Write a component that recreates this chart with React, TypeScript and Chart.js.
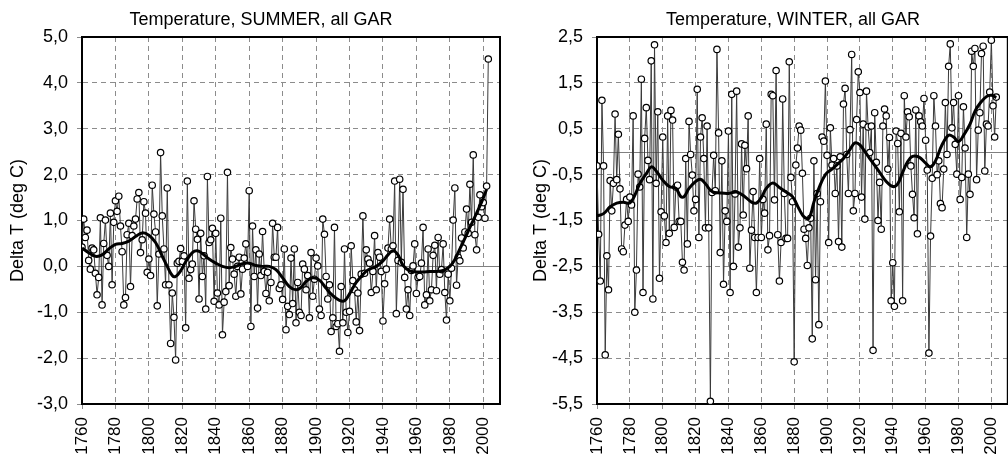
import React, { useEffect, useRef } from 'react';
import { Chart, registerables } from 'chart.js';

Chart.register(...registerables);

const FONT = '"Liberation Sans", Arial, sans-serif';

// categories
const firstYear = 1760;
const xTickYears = [1760, 1780, 1800, 1820, 1840, 1860, 1880, 1900, 1920, 1940, 1960, 1980, 2000];
const summerYTicks = [-3, -2, -1, 0, 1, 2, 3, 4, 5];
const winterYTicks = [-5.5, -4.5, -3.5, -2.5, -1.5, -0.5, 0.5, 1.5, 2.5];

// SUMMER annual anomalies 1760..2003
const summerValues = [
  0.42, 1.03, 0.63, 0.79, 0.13, -0.06, 0.40, 0.36, -0.15, -0.62,
  -0.24, 1.06, -0.84, 0.50, 1.01, 0.24, 0.00, 1.16, -0.40, 0.96,
  1.43, 1.20, 1.53, 0.88, 0.32, -0.84, -0.68, 0.69, 0.94, -0.44,
  0.67, 0.88, 1.03, 1.47, 1.61, 0.30, 0.58, 1.41, 1.16, -0.13,
  0.16, -0.20, 1.77, 1.14, 0.75, -0.86, 0.27, 2.48, 1.10, 0.38,
  -0.40, 1.71, -0.40, -1.68, -0.58, -1.11, -2.04, 0.07, 0.11, 0.39,
  0.11, 0.23, -1.34, 1.86, -0.26, -0.07, 0.05, 1.43, 0.81, 0.59,
  -0.71, 0.72, -0.22, 0.23, -0.93, 1.96, 0.52, 0.58, 0.83, -0.76,
  0.72, -0.58, -0.84, 1.05, -1.49, -0.78, -0.55, 2.05, -0.42, 0.41,
  0.16, -0.17, -0.65, 0.00, 0.20, -0.60, -0.06, 0.18, 0.49, 0.00,
  1.65, -1.31, 0.88, -0.22, 0.36, -0.91, 0.27, -0.20, 0.76, -0.11,
  -0.59, -0.13, -0.75, -0.35, 0.94, 0.20, 0.20, 0.85, -0.48, -0.40,
  -0.72, 0.38, -1.38, -0.87, -1.05, 0.18, -0.81, 0.38, -1.23, -0.35,
  -1.00, -1.07, 0.05, -0.06, -0.51, -0.20, -1.12, 0.30, -0.65, -0.28,
  0.18, 0.01, -0.93, -1.07, 1.03, 0.70, -0.22, -0.71, -0.40, -1.42,
  -1.12, 0.85, -1.31, -1.25, -1.85, -0.44, -1.23, 0.38, -1.00, -1.44,
  -0.98, 0.45, -0.31, -0.51, -1.21, -0.58, -1.40, -0.17, 1.10, -0.15,
  0.36, 0.16, 0.07, -0.57, -0.11, 0.67, -0.51, 0.30, 0.20, -0.11,
  -1.19, -0.38, -0.06, 0.40, 1.03, 0.38, 0.45, 1.86, -1.03, 0.13,
  1.90, 0.09, 1.68, -0.24, -0.93, -0.51, -1.07, -0.09, 0.01, 0.49,
  -0.59, -0.24, -0.22, 0.07, 0.85, -0.84, -0.62, 0.38, -0.75, -0.51,
  0.24, 0.46, -0.53, 0.63, -0.17, -0.07, 0.49, -0.57, -1.17, -0.17,
  -0.75, -0.04, 1.01, 1.71, -0.41, 0.20, 0.12, 0.62, 0.40, 0.75,
  1.25, 0.72, 1.79, 0.96, 2.43, 0.69, 0.36, 1.07, 1.56, 1.30,
  1.39, 1.05, 1.75, 4.52,
];

// SUMMER smoothed curve (read at selected years)
const summerSmoothYears = [
  1760, 1764, 1768, 1772, 1776, 1780, 1784, 1788, 1792, 1796, 1800, 1804, 1808, 1811, 1814, 1816,
  1819, 1822, 1826, 1829, 1832, 1836, 1840, 1844, 1848, 1852, 1856, 1860, 1864, 1868, 1872, 1876,
  1880, 1884, 1888, 1891, 1894, 1898, 1902, 1906, 1910, 1914, 1917, 1920, 1924, 1928, 1931, 1936,
  1940, 1943, 1946, 1949, 1952, 1956, 1960, 1964, 1968, 1972, 1976, 1980, 1983, 1986, 1989, 1992,
  1996, 1999, 2002,
];
const summerSmoothValues = [
  0.40, 0.30, 0.22, 0.25, 0.38, 0.48, 0.50, 0.55, 0.65, 0.73, 0.68, 0.52, 0.22, 0.00, -0.20, -0.22,
  -0.10, 0.10, 0.30, 0.34, 0.28, 0.16, 0.07, 0.00, -0.03, 0.00, 0.06, 0.07, 0.02, 0.00, 0.00, -0.07,
  -0.25, -0.44, -0.51, -0.46, -0.33, -0.25, -0.30, -0.48, -0.64, -0.74, -0.75, -0.60, -0.35, -0.18, -0.08, 0.00,
  0.12, 0.25, 0.34, 0.25, 0.02, -0.10, -0.12, -0.12, -0.11, -0.11, -0.09, 0.00, 0.15, 0.38, 0.61, 0.85,
  1.16, 1.40, 1.68,
];

// WINTER annual anomalies 1760..2003
const winterValues = [
  -0.31, -1.80, -2.82, 1.12, -0.31, -4.43, -2.27, -3.01, -0.63, -1.29,
  -0.69, 0.82, -0.61, 0.38, -0.81, -2.12, -2.18, -1.60, -1.04, -1.52,
  -0.99, -1.16, 0.78, -3.50, -2.58, -0.49, -0.77, 1.58, -3.07, 0.29,
  0.96, -0.19, -0.61, 1.98, -3.21, 2.33, -0.69, 0.87, -2.76, -1.31,
  0.32, -1.40, -1.98, 0.78, -1.78, 0.90, 0.69, -1.65, -0.77, -0.73,
  -1.52, -1.52, -2.41, -2.58, -0.15, -2.01, 0.66, -0.06, -0.51, -1.29,
  -1.04, 1.36, -1.87, 0.32, 0.74, -0.15, -1.66, 0.56, -1.66, -5.44,
  -0.89, -0.08, -0.85, 2.23, 0.41, -2.20, -0.20, -2.89, -1.29, -1.52,
  0.45, -3.07, 1.25, -2.50, -0.92, 1.32, -2.08, -1.66, 0.17, -1.38,
  0.14, -0.37, 0.78, -2.54, -1.71, -0.87, -1.87, -3.07, -1.87, -0.15,
  -1.87, -1.04, -1.34, 0.60, -2.14, -1.83, 1.25, 1.22, -1.05, 1.77,
  -1.81, -2.82, -1.98, 1.15, -0.91, -1.89, -1.89, 1.96, -0.56, -1.09,
  -4.58, -0.29, 0.08, 0.56, 0.47, -0.47, -1.69, -1.89, -2.48, -1.66,
  -1.45, -4.08, -0.20, -2.79, -0.91, -3.77, -1.09, 0.32, 0.23, 1.54,
  -0.08, -1.98, 0.52, -0.29, -0.15, -0.91, -0.31, -1.96, -0.11, -2.08,
  1.04, 1.38, -0.06, -0.91, 0.48, 2.12, -1.29, -0.91, 0.70, 1.74,
  1.29, -0.99, 0.60, -1.47, 1.32, 0.54, -0.02, 0.56, -4.33, 0.85,
  -0.23, -1.50, -0.67, -1.69, 0.56, 0.93, 0.78, -0.38, 0.31, -3.25,
  -2.42, -3.37, 0.45, 0.18, -1.31, 0.40, -3.25, 1.22, 0.32, 0.87,
  0.76, -0.31, -0.93, -1.44, 0.91, -1.79, 0.78, 0.65, 0.56, 1.16,
  0.25, -0.40, -4.39, -1.84, -0.58, 1.22, 0.56, -0.50, -0.20, -1.13,
  -1.22, -0.38, 1.07, -0.06, 1.86, 2.35, 0.52, 1.07, 0.16, -0.49,
  1.22, -1.04, -0.56, 0.98, 0.08, -1.87, -0.49, -0.93, 2.19, 1.86,
  2.25, -0.61, 0.47, 0.85, 2.14, 2.30, -0.42, 0.60, 0.56, 1.30,
  2.43, 1.00, 0.32, 1.19,
];

// WINTER smoothed curve
const winterSmoothYears = [
  1760, 1764, 1768, 1772, 1776, 1780, 1783, 1786, 1790, 1793, 1796, 1800, 1804, 1808, 1811, 1813,
  1816, 1820, 1823, 1826, 1830, 1835, 1840, 1845, 1850, 1854, 1857, 1860, 1863, 1867, 1871, 1875,
  1879, 1883, 1886, 1889, 1892, 1895, 1899, 1903, 1907, 1910, 1914, 1917, 1920, 1924, 1928, 1932,
  1936, 1940, 1943, 1946, 1949, 1952, 1956, 1960, 1963, 1966, 1970, 1974, 1977, 1980, 1983, 1987,
  1990, 1993, 1997, 2000, 2003,
];
const winterSmoothValues = [
  -1.40, -1.35, -1.20, -1.12, -1.10, -1.12, -0.95, -0.70, -0.48, -0.33, -0.42, -0.62, -0.76, -0.80, -0.98, -0.98,
  -0.80, -0.65, -0.60, -0.70, -0.87, -0.90, -0.91, -0.88, -0.98, -1.10, -1.12, -1.00, -0.80, -0.68, -0.78, -0.88,
  -0.98, -1.25, -1.42, -1.45, -1.10, -0.80, -0.50, -0.38, -0.25, -0.15, 0.05, 0.19, 0.15, -0.05, -0.25, -0.45,
  -0.65, -0.76, -0.70, -0.45, -0.22, -0.10, -0.12, -0.25, -0.33, -0.20, 0.15, 0.36, 0.32, 0.22, 0.35, 0.60,
  0.88, 1.05, 1.20, 1.23, 1.18,
];

const fmtComma = (v: number) => Number(v).toFixed(1).replace('.', ',');

const framePlugin = {
  id: 'frame',
  beforeDatasetsDraw(chart: any) {
    const { ctx, chartArea: a, scales } = chart;
    const y0 = Math.round(scales.y.getPixelForValue(0)) + 0.5;
    ctx.save();
    ctx.strokeStyle = '#808080';
    ctx.lineWidth = 1;
    ctx.setLineDash([]);
    ctx.beginPath();
    ctx.moveTo(a.left, y0);
    ctx.lineTo(a.right, y0);
    ctx.stroke();
    ctx.strokeStyle = '#000';
    ctx.lineWidth = 2;
    ctx.strokeRect(a.left, a.top, a.right - a.left, a.bottom - a.top);
    ctx.restore();
  },
  afterDraw(chart: any, _args: any, opts: any) {
    const { ctx } = chart;
    ctx.save();
    ctx.font = `18px ${FONT}`;
    ctx.fillStyle = '#000';
    ctx.textAlign = 'center';
    ctx.textBaseline = 'alphabetic';
    ctx.fillText(opts.text, opts.cx, 25);
    ctx.restore();
  },
};

type PanelProps = {
  title: string;
  titleX: number;
  values: number[];
  smoothYears: number[];
  smoothValues: number[];
  yTicks: number[];
  width: number;
  left: number;
  yAxisWidth: number;
  yTitlePad: number;
  padRight: number;
};

function Panel(p: PanelProps) {
  const ref = useRef<HTMLCanvasElement | null>(null);
  useEffect(() => {
    if (!ref.current) return;
    const points = p.values.map((v, i) => ({ x: firstYear + i, y: v }));
    const smooth = p.smoothYears.map((yr, i) => ({ x: yr, y: p.smoothValues[i] }));
    const gridColor = '#8c8c8c';
    const chart = new Chart(ref.current, {
      type: 'line',
      data: {
        datasets: [
          {
            data: smooth,
            borderColor: '#000',
            borderWidth: 3,
            pointRadius: 0,
            tension: 0.4,
            order: 0,
          },
          {
            data: points,
            borderColor: '#3a3a3a',
            borderWidth: 1,
            pointRadius: 3.2,
            pointBorderWidth: 1.2,
            pointBackgroundColor: '#fff',
            pointBorderColor: '#000',
            tension: 0,
            order: 1,
          },
        ],
      },
      options: {
        responsive: false,
        animation: false,
        devicePixelRatio: 1,
        layout: { padding: { left: 0, right: p.padRight, top: 37, bottom: 0 } },
        plugins: {
          legend: { display: false },
          tooltip: { enabled: false },
          frame: { text: p.title, cx: p.titleX },
        } as any,
        scales: {
          x: {
            type: 'linear',
            min: 1760,
            max: 2010,
            afterBuildTicks: (s: any) => {
              s.ticks = xTickYears.map((v) => ({ value: v }));
            },
            afterFit: (s: any) => {
              s.height = 58;
            },
            ticks: {
              autoSkip: false,
              maxRotation: 90,
              minRotation: 90,
              padding: 8,
              color: '#000',
              font: { size: 17, family: FONT },
              callback: (v: any) => String(v),
            },
            grid: {
              color: gridColor,
              lineWidth: 1,
              tickLength: 5,
              tickColor: gridColor,
            },
            border: { display: true, color: '#000', width: 2, dash: [5, 4] },
          },
          y: {
            type: 'linear',
            min: p.yTicks[0],
            max: p.yTicks[p.yTicks.length - 1],
            afterBuildTicks: (s: any) => {
              s.ticks = p.yTicks.map((v) => ({ value: v }));
            },
            afterFit: (s: any) => {
              s.width = p.yAxisWidth;
            },
            ticks: {
              padding: 9,
              color: '#000',
              font: { size: 18, family: FONT },
              callback: (v: any) => fmtComma(v),
            },
            grid: {
              color: gridColor,
              lineWidth: 1,
              tickLength: 5,
              tickColor: gridColor,
            },
            border: { display: true, color: '#000', width: 2, dash: [5, 4] },
            title: {
              display: true,
              text: 'Delta T (deg C)',
              color: '#000',
              font: { size: 18, family: FONT },
              padding: { top: p.yTitlePad, bottom: 0 },
            },
          },
        },
      },
      plugins: [framePlugin],
    } as any);
    return () => chart.destroy();
  }, []);
  return (
    <canvas
      ref={ref}
      width={p.width}
      height={462}
      style={{ position: 'absolute', left: p.left, top: 0, width: p.width, height: 462 }}
    />
  );
}

export default function App() {
  return (
    <div
      style={{
        position: 'fixed',
        left: 0,
        top: 0,
        width: 1008,
        height: 462,
        overflow: 'hidden',
        background: '#fff',
      }}
    >
      <Panel
        title="Temperature, SUMMER, all GAR"
        titleX={261}
        values={summerValues}
        smoothYears={summerSmoothYears}
        smoothValues={summerSmoothValues}
        yTicks={summerYTicks}
        width={520}
        left={0}
        yAxisWidth={82}
        yTitlePad={7}
        padRight={20}
      />
      <Panel
        title="Temperature, WINTER, all GAR"
        titleX={273}
        values={winterValues}
        smoothYears={winterSmoothYears}
        smoothValues={winterSmoothValues}
        yTicks={winterYTicks}
        width={500}
        left={520}
        yAxisWidth={77}
        yTitlePad={10}
        padRight={6}
      />
    </div>
  );
}
